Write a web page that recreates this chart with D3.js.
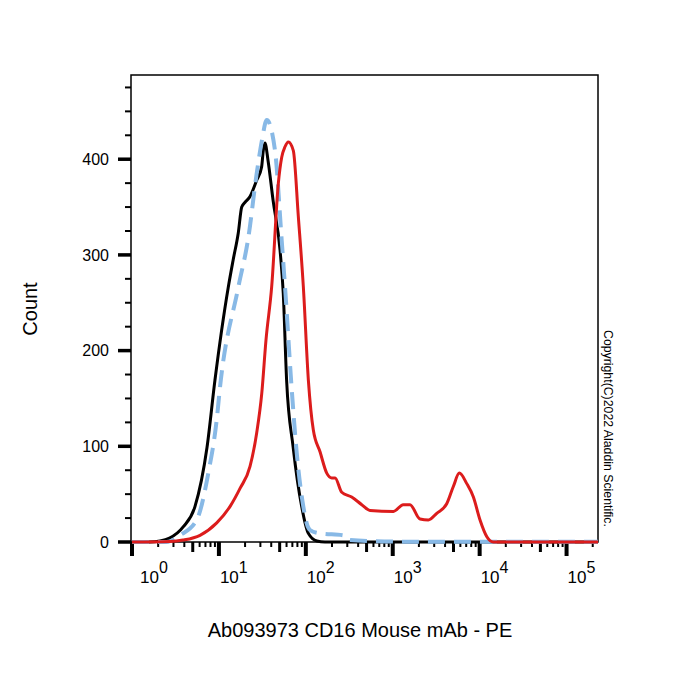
<!DOCTYPE html>
<html>
<head>
<meta charset="utf-8">
<script src="https://cdn.jsdelivr.net/npm/d3@7"></script>
<style>
  body { margin: 0; background: #fff; }
  svg { font-family: Arial, "Liberation Sans", sans-serif; }
</style>
</head>
<body>
<svg width="700" height="700"></svg>
<script>
// isotype (black), unstained (blue dashed), CD16-PE (red)
const blackX = [1, 1.6, 2.1, 2.7, 3.9, 5.3, 7.3, 9.0, 12.8, 14.6, 16.7, 18.3, 20.0, 22.8, 27.2, 31.0, 32.4, 33.9, 36.7, 42.0, 50.5, 55.0, 60.1, 71.5, 89.6, 107, 134, 166, 230000];
const blackY = [0, 0, 1, 4, 16, 37, 99, 169, 266, 295, 323, 350, 355, 361, 378, 392, 409, 417, 399, 357, 305, 260, 169, 99, 37, 9, 1, 0, 0];

const blueX = [1, 2.5, 3.57, 5.55, 7.55, 9.44, 10.3, 16.7, 21.8, 27.2, 31.3, 35.5, 44.2, 52.8, 57.7, 68.9, 78.6, 93.6, 102, 112, 146, 268, 323, 931, 1210, 230000];
const blueY = [0, 0, 7, 23, 72, 128, 162, 266, 318, 385, 420, 441, 409, 315, 266, 159, 93, 37, 20, 12.5, 9, 7, 2, 0.5, 0.3, 0.3];

const redX = [1, 2.74, 3.86, 6.06, 9.44, 13.4, 17.5, 22.8, 27.2, 31.1, 34.8, 40.5, 48.3, 52.8, 57.6, 63.0, 71.8, 82.0, 93.6, 107, 122, 146, 174, 199, 217, 259, 337, 440, 548, 1020, 1320, 1580, 2060, 2570, 3210, 4180, 4980, 5840, 7110, 8470, 10100, 12100, 14400, 230000];
const redY = [0, 0.5, 2, 7, 20, 37, 56, 79, 114, 155, 211, 267, 375, 402, 413, 418, 409, 340, 267, 169, 117, 94, 72, 67, 67, 52, 47, 39, 33, 32, 39, 39, 24, 23, 30, 40, 58, 72, 61, 47, 23, 5.5, 0, 0];

const yTicks = [0, 100, 200, 300, 400];
const xDecades = [0, 1, 2, 3, 4, 5];

const plotLeft = 131, plotRight = 598, plotTop = 75, plotBottom = 542;

const svg = d3.select('svg');

const xScale = d3.scaleLog()
  .domain([1, 230000])
  .range([plotLeft + 1, plotRight]);
const yScale = d3.scaleLinear()
  .domain([0, 488])
  .range([plotBottom, plotTop]);

// frame
svg.append('rect')
  .attr('x', plotLeft).attr('y', plotTop)
  .attr('width', plotRight - plotLeft).attr('height', plotBottom - plotTop)
  .attr('fill', 'none').attr('stroke', '#000').attr('stroke-width', 1.5);

// y ticks
const yMinor = d3.range(25, 488, 25).filter(v => v % 100 !== 0);
svg.append('g').selectAll('line')
  .data(yMinor).enter().append('line')
  .attr('x1', plotLeft - 6).attr('x2', plotLeft)
  .attr('y1', d => yScale(d)).attr('y2', d => yScale(d))
  .attr('stroke', '#000').attr('stroke-width', 2);
svg.append('g').selectAll('line')
  .data(yTicks).enter().append('line')
  .attr('x1', plotLeft - 13).attr('x2', plotLeft)
  .attr('y1', d => yScale(d)).attr('y2', d => yScale(d))
  .attr('stroke', '#000').attr('stroke-width', 3.5);
svg.append('g').selectAll('text')
  .data(yTicks).enter().append('text')
  .attr('x', 109).attr('y', d => yScale(d))
  .attr('dy', '0.35em')
  .attr('text-anchor', 'end')
  .attr('font-size', 16)
  .text(d => d);

// x ticks (log)
const xTickVals = [];
xDecades.forEach(k => {
  for (let m = 1; m <= 9; m++) {
    const v = m * Math.pow(10, k);
    if (v <= 230000) xTickVals.push({ v: v, m: m });
  }
});
svg.append('g').selectAll('line')
  .data(xTickVals).enter().append('line')
  .attr('x1', d => xScale(d.v)).attr('x2', d => xScale(d.v))
  .attr('y1', plotBottom)
  .attr('y2', d => d.m === 1 ? plotBottom + 14 : d.m === 5 ? plotBottom + 10 : plotBottom + 5)
  .attr('stroke', '#000')
  .attr('stroke-width', d => d.m === 1 ? 4 : d.m === 5 ? 3 : 2);

const xLab = svg.append('g').selectAll('text')
  .data(xDecades).enter().append('text')
  .attr('x', d => Math.max(xScale(Math.pow(10, d)) + 1, 140))
  .attr('y', 583)
  .attr('font-size', 17);
xLab.append('tspan').text('10');
xLab.append('tspan').attr('dy', -10).attr('font-size', 16).text(d => d);

// curves
const line = d3.line()
  .x(d => xScale(d[0]))
  .y(d => yScale(d[1]))
  .curve(d3.curveMonotoneX);

svg.append('path')
  .datum(d3.zip(blackX, blackY))
  .attr('d', line)
  .attr('fill', 'none').attr('stroke', '#000').attr('stroke-width', 3);

svg.append('path')
  .datum(d3.zip(blueX, blueY))
  .attr('d', line)
  .attr('fill', 'none').attr('stroke', '#88b9e6').attr('stroke-width', 4)
  .attr('stroke-dasharray', '17,9');

svg.append('path')
  .datum(d3.zip(redX, redY))
  .attr('d', line)
  .attr('fill', 'none').attr('stroke', '#dc1c1c').attr('stroke-width', 3);

// labels
svg.append('text')
  .attr('transform', 'translate(37,309) rotate(-90)')
  .attr('text-anchor', 'middle')
  .attr('font-size', 20)
  .text('Count');

svg.append('text')
  .attr('x', 360).attr('y', 637)
  .attr('text-anchor', 'middle')
  .attr('font-size', 20)
  .text('Ab093973 CD16 Mouse mAb - PE');

svg.append('text')
  .attr('transform', 'translate(604,330) rotate(90)')
  .attr('font-size', 12.3)
  .text('Copyright(C)2022 Aladdin Scientific.');
</script>
</body>
</html>
